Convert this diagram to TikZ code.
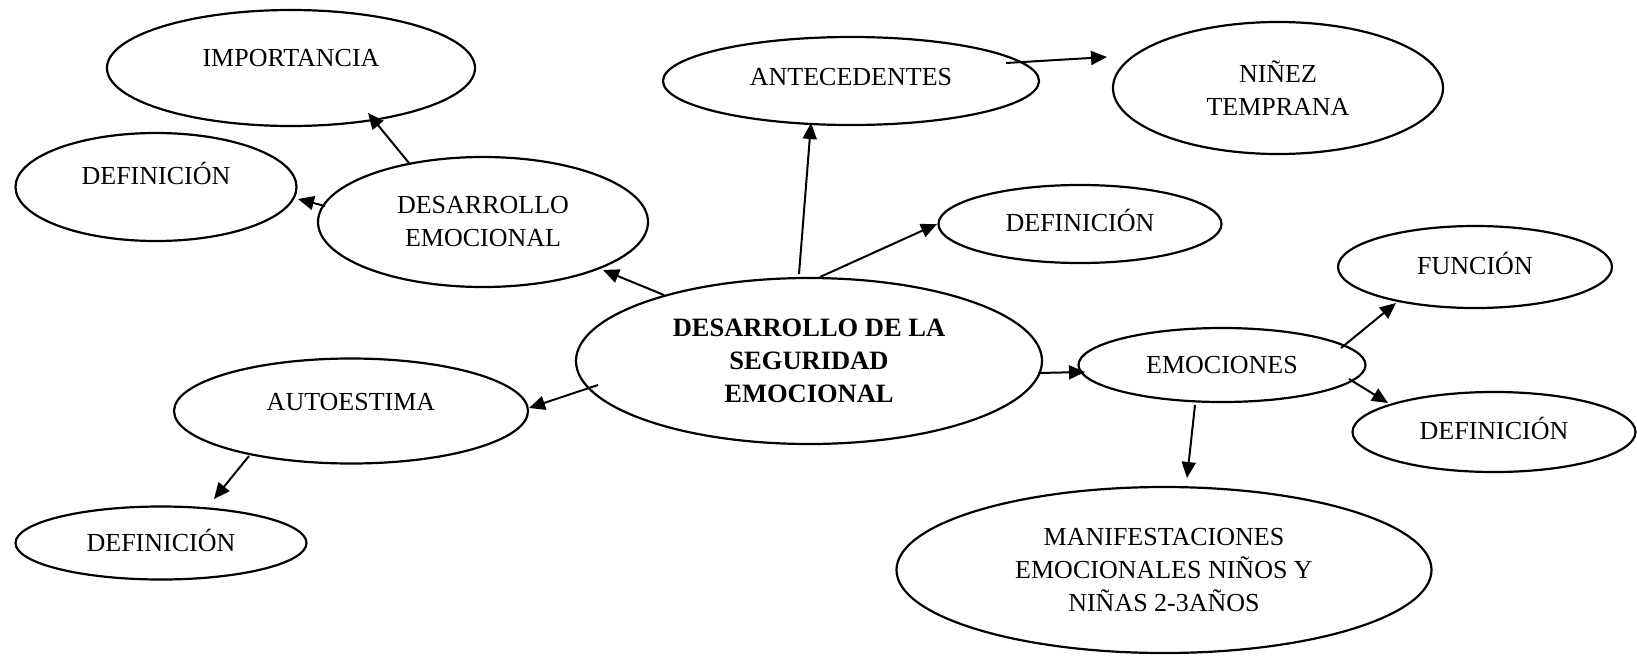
\documentclass[tikz,border=0pt]{standalone}
\usepackage{fontspec}
\setmainfont{Liberation Serif}
\usetikzlibrary{shapes.geometric,arrows.meta}
\tikzset{
  bub/.style={ellipse, draw, line width=2.2pt, inner sep=0pt, align=center,
    font=\fontsize{26pt}{33pt}\selectfont},
  lift/.style={text height=#1, text depth=6pt},
  conn/.style={line width=2pt, -{Triangle[length=16pt,width=14pt]}}
}
\begin{document}
\begin{tikzpicture}[x=1pt,y=-1pt]
\useasboundingbox (0,0) rectangle (1637,656);
\node[bub, lift=3.2pt, minimum width=368pt, minimum height=116pt] (imp) at (291,68) {IMPORTANCIA};
\node[bub, lift=0.2pt, minimum width=281pt, minimum height=108pt] (defA) at (156,187) {DEFINICIÓN};
\node[bub, minimum width=330pt, minimum height=130pt] (desEmo) at (483,222) {DESARROLLO\\EMOCIONAL};
\node[bub, lift=15.2pt, minimum width=376pt, minimum height=88pt] (ant) at (851,81) {ANTECEDENTES};
\node[bub, minimum width=330pt, minimum height=132pt] (nin) at (1278,88) {NIÑEZ\\TEMPRANA};
\node[bub, lift=20.2pt, minimum width=283pt, minimum height=78pt] (defB) at (1080,224) {DEFINICIÓN};
\node[bub, lift=20.2pt, minimum width=274pt, minimum height=82pt] (fun) at (1475,267) {FUNCIÓN};
\node[bub, minimum width=466pt, minimum height=166pt, font=\fontsize{26.5pt}{33pt}\selectfont\bfseries] (cen) at (809,361) {DESARROLLO DE LA\\SEGURIDAD\\EMOCIONAL};
\node[bub, lift=23.2pt, minimum width=287pt, minimum height=74pt] (emo) at (1222,365) {EMOCIONES};
\node[bub, lift=20.2pt, minimum width=283pt, minimum height=80pt] (defC) at (1494,432) {DEFINICIÓN};
\node[bub, minimum width=535pt, minimum height=166pt] (manif) at (1164,570) {MANIFESTACIONES\\EMOCIONALES NIÑOS Y\\NIÑAS 2-3AÑOS};
\node[bub, lift=4.2pt, minimum width=354pt, minimum height=105pt] (auto) at (351,411) {AUTOESTIMA};
\node[bub, lift=23.2pt, minimum width=291pt, minimum height=73pt] (defD) at (161,543) {DEFINICIÓN};

\draw[conn] ([shift={(-74,-59)}]desEmo.center) -- ([shift={(77,45)}]imp.center);
\draw[conn] ([shift={(-158,-16)}]desEmo.center) -- ([shift={(142,12)}]defA.center);
\draw[conn] ([shift={(-145,-66)}]cen.center) -- ([shift={(120,48)}]desEmo.center);
\draw[conn] ([shift={(-10,-87)}]cen.center) -- ([shift={(-40,42)}]ant.center);
\draw[conn] ([shift={(155,-18)}]ant.center) -- ([shift={(-171,-31)}]nin.center);
\draw[conn] ([shift={(11,-84)}]cen.center) -- ([shift={(-143,0)}]defB.center);
\draw[conn] ([shift={(229,12)}]cen.center) -- ([shift={(-137,7)}]emo.center);
\draw[conn] ([shift={(119,-17)}]emo.center) -- ([shift={(-79,36)}]fun.center);
\draw[conn] ([shift={(127,14)}]emo.center) -- ([shift={(-106,-29)}]defC.center);
\draw[conn] ([shift={(-27,40)}]emo.center) -- ([shift={(23,-92)}]manif.center);
\draw[conn] ([shift={(-211,24)}]cen.center) -- ([shift={(178,-3)}]auto.center);
\draw[conn] ([shift={(-102,45)}]auto.center) -- ([shift={(53,-44)}]defD.center);
\end{tikzpicture}
\end{document}
